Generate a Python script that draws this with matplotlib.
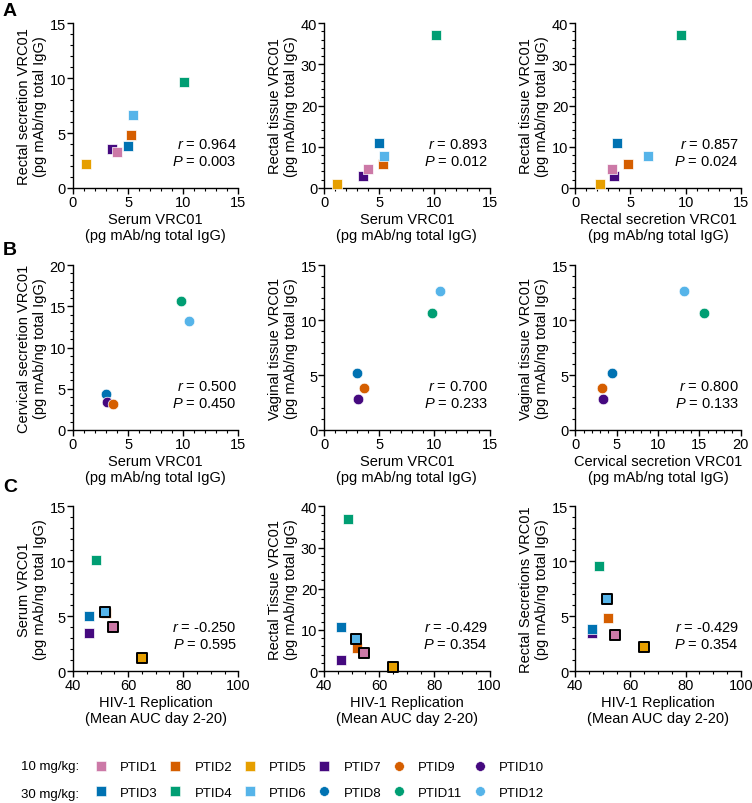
import matplotlib
matplotlib.use("Agg")
import matplotlib.pyplot as plt
from matplotlib.lines import Line2D
from matplotlib.ticker import MultipleLocator

plt.rcParams['font.family'] = ['Liberation Sans', 'DejaVu Sans']
plt.rcParams['mathtext.fontset'] = 'custom'
plt.rcParams['mathtext.rm'] = 'Liberation Sans'
plt.rcParams['mathtext.it'] = 'Liberation Sans:italic'

# rectal-challenge animals (squares), listed in drawing order
rect_ids = ["PTID7", "PTID2", "PTID3", "PTID4", "PTID5", "PTID1", "PTID6"]
rect_serum = [3.5, 5.3, 5.0, 10.1, 1.2, 4.0, 5.4]
rect_secretion = [3.5, 4.8, 3.8, 9.6, 2.2, 3.3, 6.6]
rect_tissue = [2.8, 5.7, 10.8, 37.0, 1.0, 4.5, 7.7]
hiv_auc = [46.0, 52.0, 46.0, 48.5, 65.0, 54.5, 51.5]
outlined_ids = ["PTID1", "PTID5", "PTID6"]

# vaginal-challenge animals (circles)
vag_ids = ["PTID8", "PTID10", "PTID9", "PTID11", "PTID12"]
vag_serum = [3.0, 3.1, 3.6, 9.8, 10.5]
vag_cervical = [4.4, 3.4, 3.2, 15.6, 13.2]
vag_tissue = [5.2, 2.8, 3.8, 10.6, 12.6]

colors = {
    "PTID1": "#CC79A7", "PTID2": "#D55E00", "PTID5": "#E69F00", "PTID7": "#45097F",
    "PTID9": "#D55E00", "PTID10": "#45097F",
    "PTID3": "#0072B2", "PTID4": "#009E73", "PTID6": "#56B4E9",
    "PTID8": "#0072B2", "PTID11": "#009E73", "PTID12": "#56B4E9",
}

stats = [
    ("0.964", "0.003"), ("0.893", "0.012"), ("0.857", "0.024"),
    ("0.500", "0.450"), ("0.700", "0.233"), ("0.800", "0.133"),
    ("-0.250", "0.595"), ("-0.429", "0.354"), ("-0.429", "0.354"),
]

unit = "(pg mAb/ng total IgG)"
hiv_lab = "HIV-1 Replication\n(Mean AUC day 2-20)"

# x, y, marker, xlabel, ylabel, xlim, ylim, x-major/minor, y-major/minor
panels = [
    (rect_serum, rect_secretion, "s", "Serum VRC01\n" + unit, "Rectal secretion VRC01\n" + unit,
     (0, 15), (0, 15), (5, 1), (5, 1)),
    (rect_serum, rect_tissue, "s", "Serum VRC01\n" + unit, "Rectal tissue VRC01\n" + unit,
     (0, 15), (0, 40), (5, 1), (10, 2)),
    (rect_secretion, rect_tissue, "s", "Rectal secretion VRC01\n" + unit, "Rectal tissue VRC01\n" + unit,
     (0, 15), (0, 40), (5, 1), (10, 2)),
    (vag_serum, vag_cervical, "o", "Serum VRC01\n" + unit, "Cervical secretion VRC01\n" + unit,
     (0, 15), (0, 20), (5, 1), (5, 1)),
    (vag_serum, vag_tissue, "o", "Serum VRC01\n" + unit, "Vaginal tissue VRC01\n" + unit,
     (0, 15), (0, 15), (5, 1), (5, 1)),
    (vag_cervical, vag_tissue, "o", "Cervical secretion VRC01\n" + unit, "Vaginal tissue VRC01\n" + unit,
     (0, 20), (0, 15), (5, 1), (5, 1)),
    (hiv_auc, rect_serum, "s", hiv_lab, "Serum VRC01\n" + unit,
     (40, 100), (0, 15), (20, 5), (5, 1)),
    (hiv_auc, rect_tissue, "s", hiv_lab, "Rectal Tissue VRC01\n" + unit,
     (40, 100), (0, 40), (20, 5), (10, 2)),
    (hiv_auc, rect_secretion, "s", hiv_lab, "Rectal Secretions VRC01\n" + unit,
     (40, 100), (0, 15), (20, 5), (5, 1)),
]

fig = plt.figure(figsize=(7.52, 8.04), dpi=100)

lefts = [0.097, 0.431, 0.765]
bottoms = [0.765, 0.464, 0.164]
w, h = 0.22, 0.205

for i, p in enumerate(panels):
    xs, ys, mk, xl, yl, xlim, ylim, xt, yt = p
    ax = fig.add_axes([lefts[i % 3], bottoms[i // 3], w, h])
    ids = rect_ids if mk == "s" else vag_ids
    for j, pid in enumerate(ids):
        if i >= 6 and pid in outlined_ids:
            ax.scatter(xs[j], ys[j], marker=mk, s=44, color=colors[pid],
                       edgecolors="black", linewidths=1.4, zorder=3, clip_on=False)
        else:
            ax.scatter(xs[j], ys[j], marker=mk, s=58, color=colors[pid],
                       edgecolors="white", linewidths=0.5, zorder=3, clip_on=False)
    ax.set_xlim(*xlim)
    ax.set_ylim(*ylim)
    ax.xaxis.set_major_locator(MultipleLocator(xt[0]))
    ax.xaxis.set_minor_locator(MultipleLocator(xt[1]))
    ax.yaxis.set_major_locator(MultipleLocator(yt[0]))
    ax.yaxis.set_minor_locator(MultipleLocator(yt[1]))
    for s in ["top", "right"]:
        ax.spines[s].set_visible(False)
    for s in ["left", "bottom"]:
        ax.spines[s].set_linewidth(1.0)
    ax.tick_params(which="major", direction="out", length=4, width=1, labelsize=10.5, pad=1)
    ax.tick_params(which="minor", direction="out", length=2.2, width=0.8)
    ax.set_xlabel(xl, fontsize=10.5, labelpad=2)
    ax.set_ylabel(yl, fontsize=10.5, labelpad=2)
    r, pv = stats[i]
    ax.text(0.99, 0.265, r"$\it{r}$ = " + r, transform=ax.transAxes, ha="right", va="center", fontsize=10.5)
    ax.text(0.99, 0.163, r"$\it{P}$ = " + pv, transform=ax.transAxes, ha="right", va="center", fontsize=10.5)

for letter, yy in zip("ABC", [0.986, 0.689, 0.394]):
    fig.text(0.004, yy, letter, fontsize=14, fontweight="bold", va="center", ha="left")

# legend
leg_order = ["PTID1", "PTID3", "PTID2", "PTID4", "PTID5", "PTID6",
             "PTID7", "PTID8", "PTID9", "PTID11", "PTID10", "PTID12"]
leg_marker = {"PTID1": "s", "PTID2": "s", "PTID3": "s", "PTID4": "s", "PTID5": "s", "PTID6": "s",
              "PTID7": "s", "PTID8": "o", "PTID9": "o", "PTID10": "o", "PTID11": "o", "PTID12": "o"}
handles = [Line2D([], [], linestyle="none", marker=leg_marker[p], markersize=7,
                  markerfacecolor=colors[p], markeredgecolor="white", markeredgewidth=0.4)
           for p in leg_order]
fig.legend(handles, leg_order, ncol=6, loc="center left", bbox_to_anchor=(0.125, 0.0286),
           frameon=False, fontsize=9.5, handletextpad=0.95,
           columnspacing=0.85, labelspacing=1.0, handlelength=1.0, borderpad=0, borderaxespad=0)
fig.text(0.105, 0.046, "10 mg/kg:", fontsize=9.5, ha="right", va="center")
fig.text(0.105, 0.011, "30 mg/kg:", fontsize=9.5, ha="right", va="center")

fig.savefig("out.png", dpi=100)
